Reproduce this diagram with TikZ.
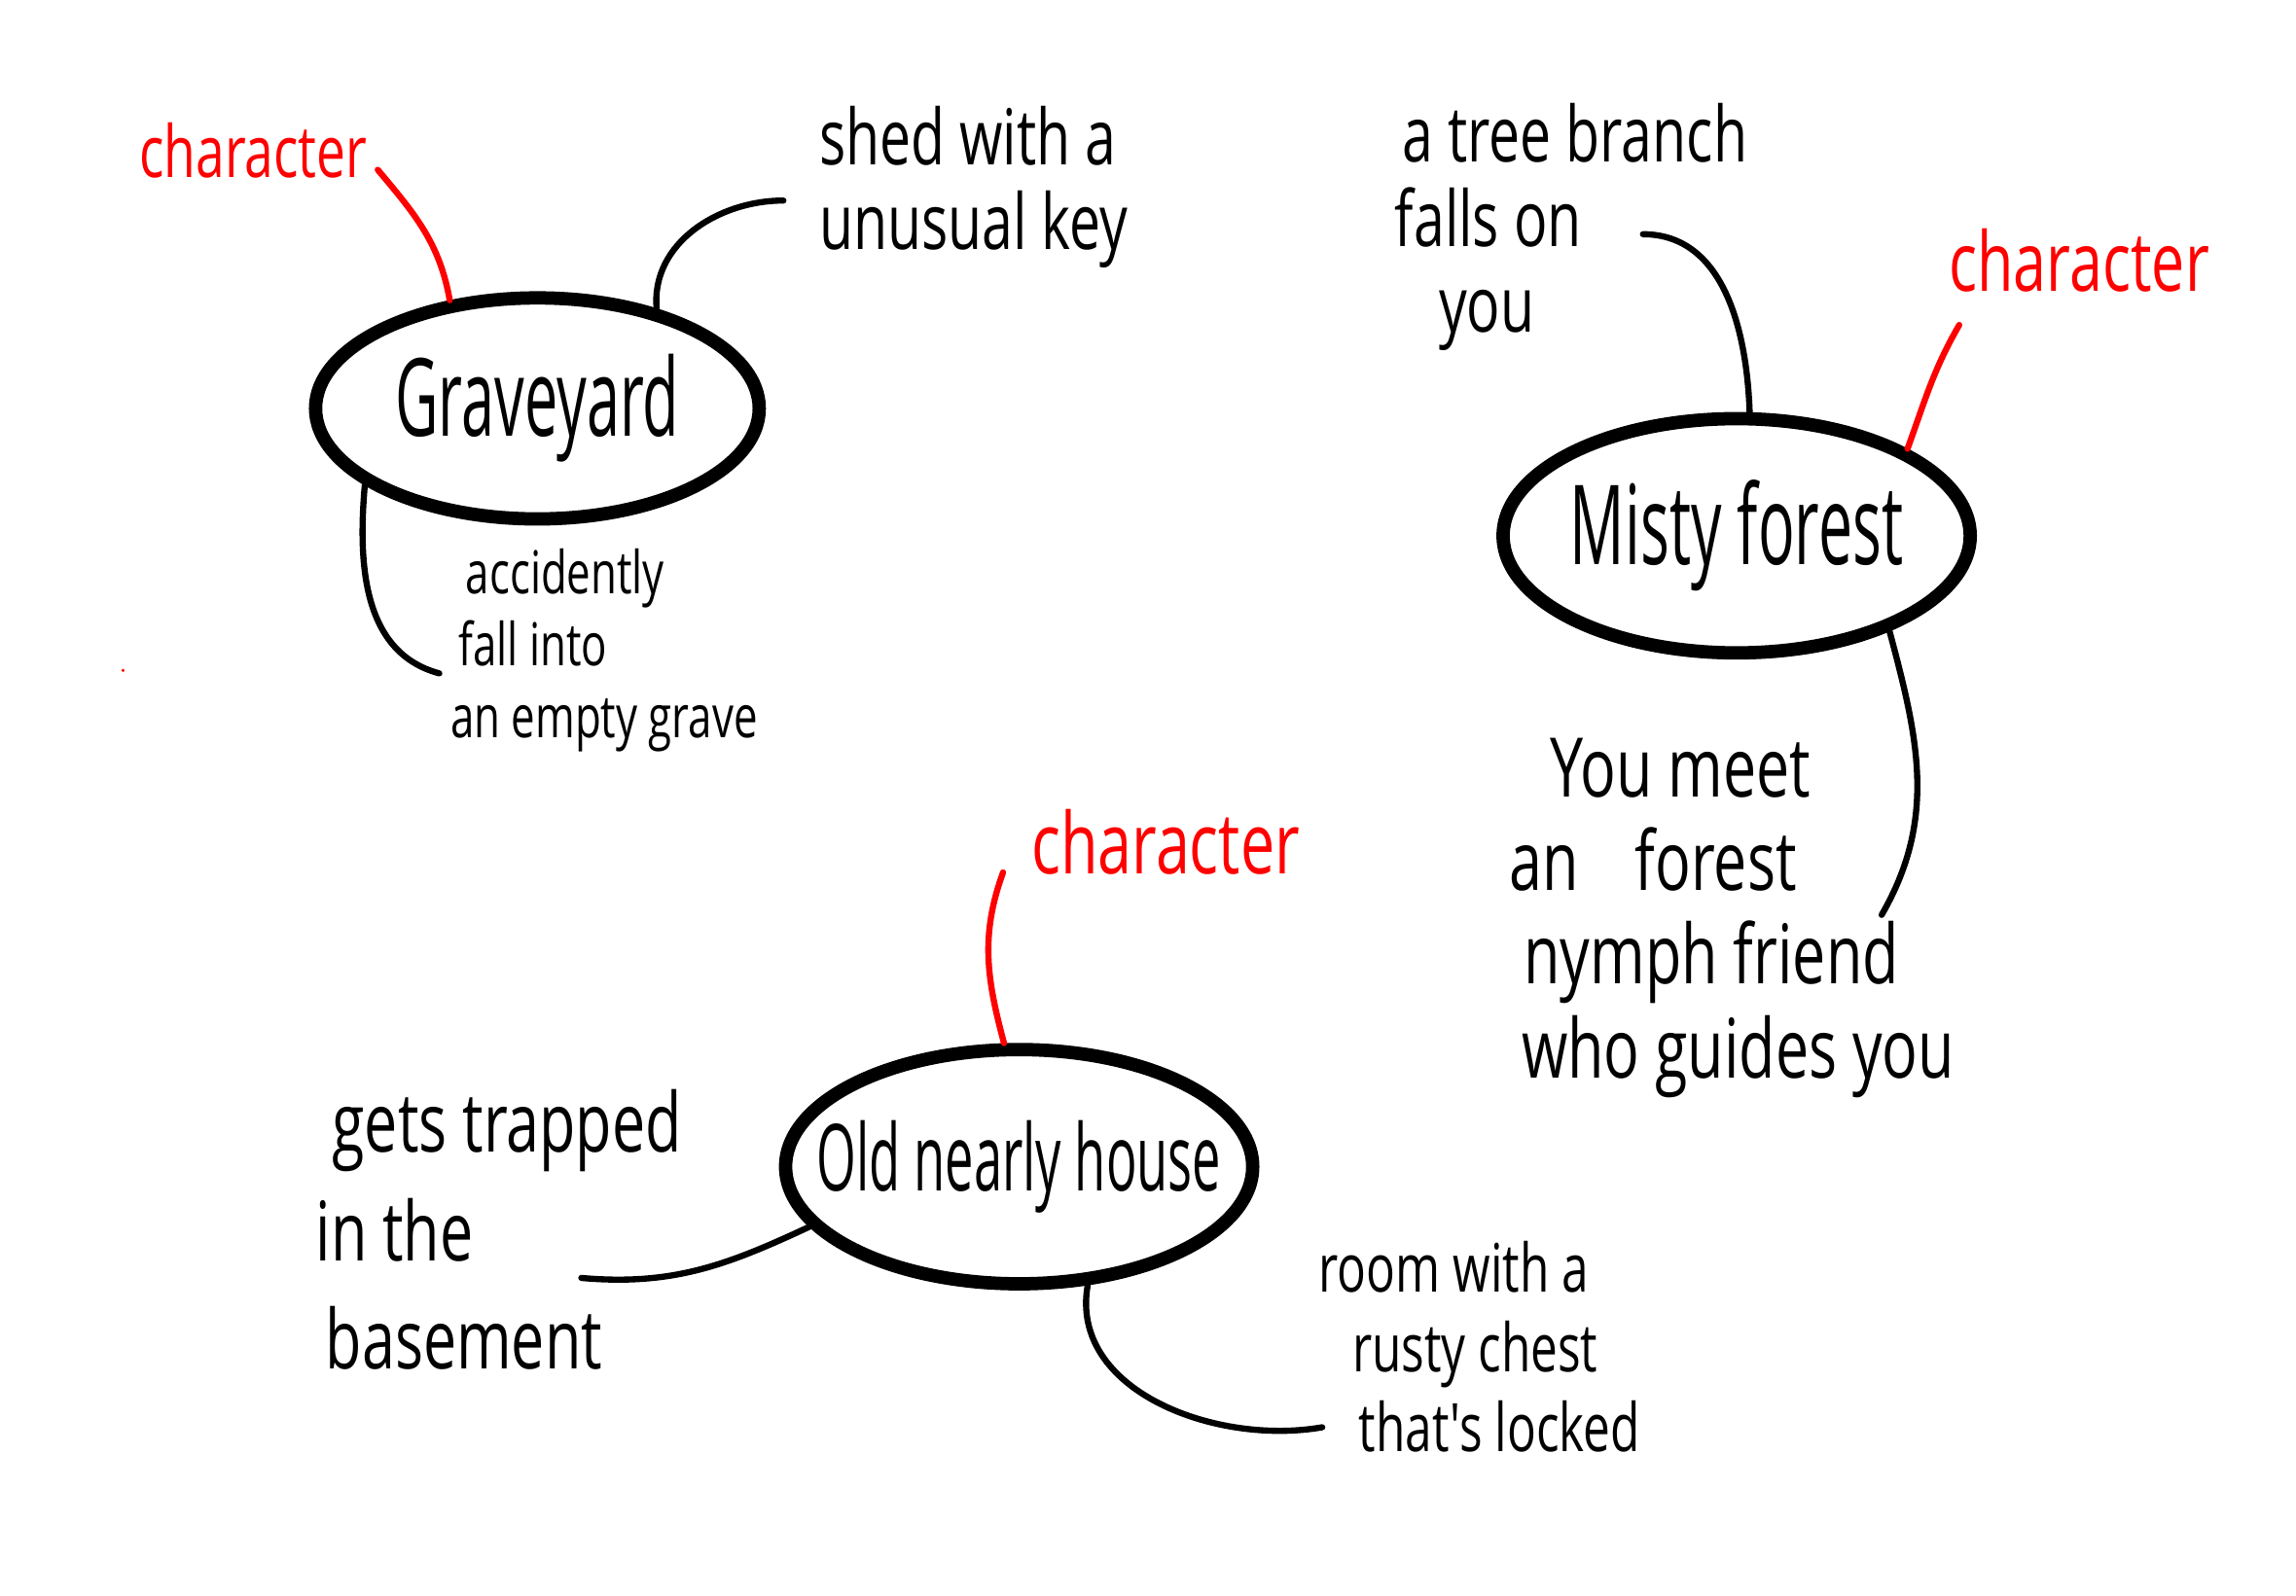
\documentclass[tikz,border=0pt]{standalone}
\usepackage{fontspec}
\newfontfamily\hand[FakeStretch=0.72]{Open Sans}
\newfontfamily\handtitle[FakeStretch=0.55]{Open Sans}
\usetikzlibrary{shapes.geometric}
\tikzset{
  % Place (ellipse) node
  place/.style={draw, shape=ellipse, line width=2.6pt, inner sep=-1cm,
    minimum width=3.19cm, minimum height=1.6cm,
    font=\handtitle\fontsize{22}{24}\selectfont},
  % Idea text
  idea/.style={align=left, inner sep=0pt, font=\hand\fontsize{15}{16.5}\selectfont},
  % Red tag
  tag/.style={red, inner sep=0pt, font=\hand\fontsize{#1}{#1}\selectfont},
  tag/.default=15,
  % Connectors
  link/.style={line width=1.2pt, line cap=round},
  rlink/.style={link, red},
}
\begin{document}
\begin{tikzpicture}
  \useasboundingbox (0,0) rectangle (15.68,10.90);

  % places
  \node[place, minimum width=3.03cm, minimum height=1.51cm, font=\handtitle\fontsize{21}{24}\selectfont] (gy) at (3.67,8.11) {Graveyard};
  \node[place, font=\handtitle\fontsize{21.5}{24}\selectfont] (mf) at (11.86,7.24) {Misty forest};
  \node[place, font=\handtitle\fontsize{18}{20}\selectfont] (oh) at (6.96,2.93) {Old nearly house};

  % graveyard
  \node[tag=14] (gyc) at (1.73,9.87) {character};
  \node[idea] (gys) at (6.65,9.62) {shed with a\\unusual key};
  \node[idea, font=\hand\fontsize{11.5}{14}\selectfont, anchor=west] (gyf) at (3.07,6.46)
    {\hspace{0.26em}accidently\\\hspace{0.14em}fall into\\an empty grave};
  \coordinate (gyc-e) at (2.58,9.74);
  \coordinate (gys-e) at (5.35,9.53);
  \coordinate (gyf-e) at (3.00,6.30);
  \draw[rlink] (gy.129) to[out=100, in=-50] (gyc-e);
  \draw[link] (gy.40) to[out=95, in=180] (gys-e);
  \draw[link] (gy.204) to[out=-95, in=165] (gyf-e);

  % misty forest
  \node[tag=16] (mfc) at (14.20,9.12) {character};
  \node[idea, anchor=west] (mft) at (9.52,9.35) {\hspace{0.1em}a tree branch\\falls on\\\hspace{0.57em}you};
  \node[idea, font=\hand\fontsize{16}{18.2}\selectfont, anchor=west] (mfy) at (10.30,4.63)
    {\hspace{0.5em}You meet\\an\hspace{0.5em} forest\\\hspace{0.18em}nymph friend\\\hspace{0.15em}who guides you};
  \coordinate (mfc-e) at (13.38,8.68);
  \coordinate (mft-e) at (11.22,9.30);
  \coordinate (mfy-e) at (12.85,4.65);
  \draw[rlink] (mf.27) to[out=70, in=-120] (mfc-e);
  \draw[link] (mf.84) to[out=92, in=0] (mft-e);
  \draw[link] (mf.-32) to[out=-75, in=60] (mfy-e);

  % old nearly house
  \node[tag=16.5] (ohc) at (7.96,5.15) {character};
  \node[idea, font=\hand\fontsize{16}{21}\selectfont, anchor=west] (ohg) at (2.15,2.50)
    {\hspace{0.2em}gets trapped\\in the\\\hspace{0.12em}basement};
  \node[idea, font=\hand\fontsize{13}{15.5}\selectfont, anchor=west] (ohr) at (9.00,1.70)
    {room with a\\\hspace{0.5em}rusty chest\\\hspace{0.6em}that's locked};
  \coordinate (ohc-e) at (6.85,4.94);
  \coordinate (ohg-e) at (3.97,2.17);
  \coordinate (ohr-e) at (9.03,1.15);
  \draw[rlink] (oh.97) to[out=105, in=-110] (ohc-e);
  \draw[link] (oh.196) to[out=205, in=-5] (ohg-e);
  \draw[link] (oh.-60) to[out=-100, in=190] (ohr-e);

  % stray dot
  \fill[red] (0.84,6.32) circle [radius=0.012];
\end{tikzpicture}
\end{document}
